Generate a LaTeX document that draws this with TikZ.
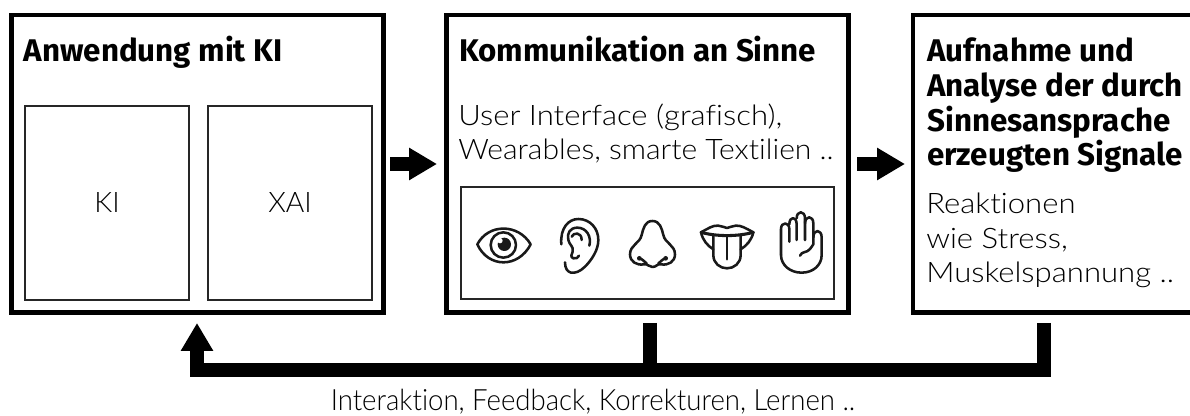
\documentclass[tikz,border=0pt]{standalone}
\usepackage{fontspec}
\usetikzlibrary{arrows.meta}
\setmainfont{Fira Sans}
\newfontfamily\lightfont[Ligatures=NoCommon]{Lato Light}
\newfontfamily\lightwide[Ligatures=NoCommon,FakeStretch=1.1]{Lato Light}
\newfontfamily\lightmid[Ligatures=NoCommon,FakeStretch=1.065]{Lato Light}
\newfontfamily\lightnarrow[Ligatures=NoCommon,FakeStretch=0.94]{Lato Light}
\tikzset{
  bigbox/.style={draw=black,line width=3.4pt,fill=white,inner sep=0pt,rectangle},
  thinbox/.style={draw=black!85,line width=1.3pt,fill=white,inner sep=0pt,rectangle},
  title/.style={anchor=base west,inner sep=0pt,align=left,font=\fontsize{23.5pt}{26pt}\selectfont\bfseries},
  body/.style={anchor=base west,inner sep=0pt,align=left,font=\fontsize{21.2pt}{26pt}\selectfont\lightwide},
  flow/.style={line width=10.5pt,draw=black,line join=miter},
  flowtip/.style={flow,-{Triangle[length=21pt,width=23pt]}},
  icon/.style={line width=1.9pt,draw=black!90,line cap=round,line join=round,fill=none}
}
\begin{document}
\begin{tikzpicture}[x=0.75pt,y=-0.75pt]
\useasboundingbox (0,0) rectangle (1190,416);
\clip (0,0) rectangle (1190,416);
\node[bigbox,minimum width=279.3pt,minimum height=223.3pt] (app) at (197.5,163.9) {};
\node[bigbox,minimum width=301.5pt,minimum height=223.3pt] (comm) at (647.5,163.9) {};
\node[bigbox,minimum width=216pt,minimum height=223pt] (sig) at (1057,163.9) {};
\node[thinbox,minimum width=122.5pt,minimum height=145pt,font=\fontsize{21.2pt}{26pt}\selectfont\lightfont] (ki) at (107,203) {KI};
\node[thinbox,minimum width=122.5pt,minimum height=145pt,font=\fontsize{21.2pt}{26pt}\selectfont\lightfont] (xai) at (290,203) {XAI};
\node[thinbox,minimum width=279.5pt,minimum height=83.5pt] (senses) at (647.5,243) {};
\node[title] (t1) at (23.5,62) {Anwendung mit KI};
\node[title] (t2) at (459,62) {Kommunikation an Sinne};
\node[title] (t3) at (927,166) {Aufnahme und\\Analyse der durch\\Sinnesansprache\\erzeugten Signale};
\node[body] (b2) at (458,160) {User Interface (grafisch),\\{\lightmid Wearables, smarte Textilien ..}};
\node[body] (b3) at (926,283) {Reaktionen\\wie Stress,\\Muskelspannung ..};
\node[body,anchor=base,font=\fontsize{22pt}{26pt}\selectfont\lightnarrow] (fb) at (593,411) {Interaktion, Feedback, Korrekturen, Lernen ..};
% flow arrows
\coordinate (a1s) at (390,164);
\coordinate (a1e) at (437,164);
\coordinate (a2s) at (857,164);
\coordinate (a2e) at (905,164);
\draw[flowtip] (a1s) -- (a1e);
\draw[flowtip] (a2s) -- (a2e);
\coordinate (fr) at (1044,323);
\coordinate (fm) at (650,323);
\coordinate (fj) at (650,370);
\coordinate (fl) at (197,323);
\draw[flowtip] (fr) -- (1044,370) -- (197,370) -- (fl);
\draw[flow] (fm) -- (fj);
% eye and ear
\begin{scope}[shift={(470,205)},x=0.25pt,y=-0.25pt]
\draw[icon] (22,118) .. controls (55,55) and (145,55) .. (182,118) .. controls (145,190) and (55,190) .. cycle;
\draw[icon] (100,120) circle[radius=38];
\fill[black!90] (103,118) circle[radius=20];
\fill[white] (90,107) circle[radius=8];
\draw[icon] (274,118) .. controls (270,70) and (295,42) .. (325,42) .. controls (360,42) and (385,70) .. (385,105) .. controls (385,135) and (365,165) .. (345,185) .. controls (330,200) and (315,205) .. (303,203) .. controls (292,200) and (285,190) .. (285,172);
\draw[icon] (358,122) .. controls (365,95) and (350,68) .. (322,68) .. controls (300,68) and (290,85) .. (295,105) .. controls (298,120) and (312,125) .. (308,140) .. controls (305,150) and (300,155) .. (310,160) .. controls (318,162) and (325,158) .. (327,152);
\draw[icon] (305,95) .. controls (310,82) and (335,80) .. (335,105);
\end{scope}
% nose, tongue, hand
\begin{scope}[shift={(620,205)},x=0.25pt,y=-0.25pt]
\draw[icon] (97,48) .. controls (75,48) and (70,70) .. (65,90) .. controls (60,115) and (30,120) .. (30,148) .. controls (30,170) and (50,182) .. (72,178) .. controls (85,176) and (85,186) .. (97,186) .. controls (110,186) and (110,176) .. (123,178) .. controls (145,182) and (165,170) .. (165,148) .. controls (165,120) and (135,115) .. (130,90) .. controls (125,70) and (120,48) .. (97,48);
\draw[icon] (55,160) .. controls (62,158) and (72,168) .. (80,176);
\draw[icon] (140,160) .. controls (133,158) and (123,168) .. (115,176);
\fill[black!90] (58,160) circle[radius=7];
\fill[black!90] (137,160) circle[radius=7];
\draw[icon] (243,82) .. controls (265,70) and (280,60) .. (295,62) .. controls (305,62) and (312,68) .. (321,69) .. controls (330,68) and (337,62) .. (347,62) .. controls (362,60) and (378,70) .. (400,82);
\draw[icon,line width=2.3pt] (243,82) .. controls (290,95) and (352,95) .. (400,82);
\draw[icon] (243,82) .. controls (248,105) and (262,122) .. (280,133);
\draw[icon] (400,82) .. controls (395,105) and (380,122) .. (362,133);
\draw[icon] (280,92) -- (280,150) .. controls (280,175) and (300,190) .. (321,190) .. controls (342,190) and (362,175) .. (362,150) -- (362,92);
\draw[icon] (321,95) -- (321,163);
\draw[icon] (483,150) -- (483,72) .. controls (483,50) and (508,50) .. (508,72) -- (508,110);
\draw[icon] (508,58) .. controls (508,33) and (530,33) .. (530,58) -- (530,105);
\draw[icon] (530,40) .. controls (530,16) and (555,16) .. (555,40) -- (555,105);
\draw[icon] (555,55) .. controls (555,31) and (580,31) .. (580,55) -- (580,118);
\draw[icon] (580,97) .. controls (580,72) and (605,72) .. (605,97) -- (605,150) .. controls (605,180) and (580,203) .. (545,203) .. controls (510,203) and (483,180) .. (483,150);
\draw[icon] (540,152) .. controls (545,138) and (562,144) .. (570,132) .. controls (574,126) and (578,122) .. (580,118);
\end{scope}
\end{tikzpicture}
\end{document}
